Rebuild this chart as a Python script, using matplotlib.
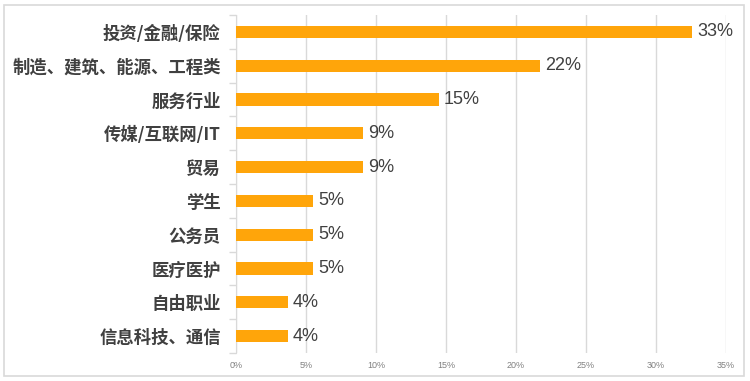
import matplotlib
matplotlib.use("Agg")
import matplotlib.pyplot as plt
from matplotlib.patches import Rectangle
import numpy as np

plt.rcParams['font.family'] = ['Noto Sans CJK SC', 'DejaVu Sans']

categories = ["投资/金融/保险", "制造、建筑、能源、工程类", "服务行业", "传媒/互联网/IT", "贸易",
              "学生", "公务员", "医疗医护", "自由职业", "信息科技、通信"]
values = [32.6, 21.7, 14.5, 9.1, 9.1, 5.5, 5.5, 5.5, 3.7, 3.7]
value_labels = ["33%", "22%", "15%", "9%", "9%", "5%", "5%", "5%", "4%", "4%"]
xticks = [0, 5, 10, 15, 20, 25, 30, 35]
xtick_labels = ["0%", "5%", "10%", "15%", "20%", "25%", "30%", "35%"]

fig = plt.figure(figsize=(7.5, 3.81), dpi=100)
ax = fig.add_axes([236/750, 1-353/381, (726-236)/750, (353-15)/381])

n = len(categories)
y = np.arange(n)
ax.barh(y, values, height=0.36, color='#FFA50A', zorder=3)
ax.set_ylim(n - 0.5, -0.5)
ax.set_xlim(0, 35)

for yi, v, lab in zip(y, values, value_labels):
    ax.text(v + 0.35, yi, lab, va='center', ha='left', fontsize=13,
            color='#404040', family=['Liberation Sans', 'DejaVu Sans'])

ax.set_yticks(y)
ax.set_yticklabels(categories, fontsize=12.5, fontweight='bold', color='#404040')
ax.set_yticks(np.arange(-0.5, n, 1), minor=True)
ax.tick_params(axis='y', which='major', length=0, pad=11)
ax.tick_params(axis='y', which='minor', length=5, color='#d9d9d9', width=1)

ax.set_xticks(xticks)
ax.set_xticklabels(xtick_labels, fontsize=6.5, color='#808080',
                   family=['Liberation Sans', 'DejaVu Sans'])
ax.tick_params(axis='x', length=0, pad=6)

ax.grid(axis='x', color='#d9d9d9', linewidth=1, zorder=0)
for s in ['top', 'right', 'bottom']:
    ax.spines[s].set_visible(False)
ax.spines['left'].set_color('#d9d9d9')

fig.patches.append(Rectangle((4/750, 5/381), 740/750, 371/381, transform=fig.transFigure,
                             fill=False, edgecolor='#d9d9d9', linewidth=1.2))

fig.savefig('out.png', dpi=100)
